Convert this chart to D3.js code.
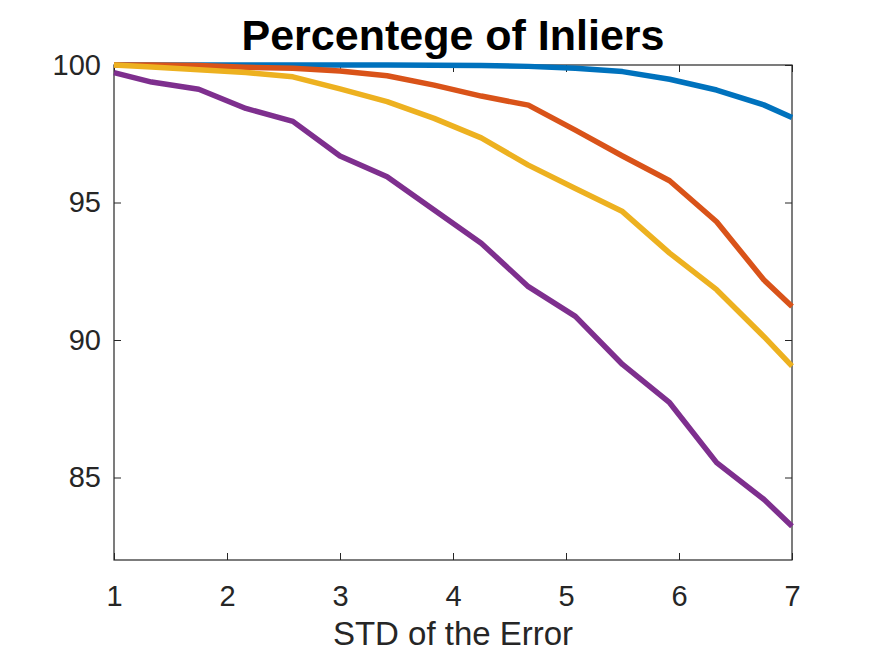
<!DOCTYPE html>
<html>
<head>
<meta charset="utf-8">
<script src="https://cdn.jsdelivr.net/npm/d3@7"></script>
<style>
    body { margin: 0; background: #fff; }
    svg { display: block; font-family: "Liberation Sans", Arial, sans-serif; }
</style>
</head>
<body>
<svg id="container" width="875" height="656"></svg>
<script>
// std of the error (x) and percentage of inliers per curve
const xValues = [1, 1.333, 1.75, 2.167, 2.583, 3, 3.417, 3.833, 4.25, 4.667, 5.083, 5.5, 5.917, 6.333, 6.75, 7];
const blueValues = [100, 100, 100, 100, 100, 100, 100, 99.99, 99.98, 99.95, 99.88, 99.76, 99.48, 99.09, 98.55, 98.09];
const redValues = [100, 100, 99.98, 99.92, 99.88, 99.78, 99.61, 99.27, 98.87, 98.54, 97.63, 96.69, 95.79, 94.30, 92.19, 91.22];
const yellowValues = [100, 99.93, 99.83, 99.73, 99.57, 99.13, 98.67, 98.06, 97.35, 96.36, 95.51, 94.67, 93.16, 91.83, 90.13, 89.05];
const purpleValues = [99.72, 99.38, 99.12, 98.42, 97.95, 96.69, 95.94, 94.73, 93.52, 91.94, 90.86, 89.11, 87.72, 85.54, 84.21, 83.23];

const xTicks = [1, 2, 3, 4, 5, 6, 7];
const yTicks = [85, 90, 95, 100];

const series = [
    { name: "blue", values: blueValues, color: "#0072BD" },
    { name: "red", values: redValues, color: "#D95319" },
    { name: "yellow", values: yellowValues, color: "#EDB120" },
    { name: "purple", values: purpleValues, color: "#7E2F8E" }
];

const svg = d3.select('#container');
const margin = { top: 65, right: 83, bottom: 96, left: 114 };
const width = 875 - margin.left - margin.right;
const height = 656 - margin.top - margin.bottom;
const axisColor = "#262626";

const xScale = d3.scaleLinear().domain([1, 7]).range([0, width]);
const yScale = d3.scaleLinear().domain([82, 100]).range([height, 0]);

const g = svg.append('g')
    .attr('transform', 'translate(' + margin.left + ',' + margin.top + ')');

function styleAxis(sel) {
    sel.select('.domain').remove();
    sel.selectAll('.tick line').attr('stroke', axisColor);
    sel.selectAll('.tick text')
        .attr('fill', axisColor)
        .style('font-size', '29px');
}

// bottom and left axes with inward ticks
g.append('g')
    .attr('transform', 'translate(0,' + height + ')')
    .call(d3.axisBottom(xScale).tickValues(xTicks).tickSize(-7).tickPadding(25).tickFormat(d3.format('d')))
    .call(styleAxis);

g.append('g')
    .call(d3.axisLeft(yScale).tickValues(yTicks).tickSize(-7).tickPadding(13).tickFormat(d3.format('d')))
    .call(styleAxis);

// top and right ticks (box on)
g.append('g')
    .call(d3.axisTop(xScale).tickValues(xTicks).tickSize(-7).tickFormat(''))
    .call(styleAxis);

g.append('g')
    .attr('transform', 'translate(' + width + ',0)')
    .call(d3.axisRight(yScale).tickValues(yTicks).tickSize(-7).tickFormat(''))
    .call(styleAxis);

g.append('rect')
    .attr('x', 0).attr('y', 0)
    .attr('width', width).attr('height', height)
    .attr('fill', 'none')
    .attr('stroke', axisColor)
    .attr('stroke-width', 1.2);

const line = d3.line()
    .x((d, i) => xScale(xValues[i]))
    .y(d => yScale(d));

for (let s of series) {
    g.append('path')
        .datum(s.values)
        .attr('d', line)
        .attr('fill', 'none')
        .attr('stroke', s.color)
        .attr('stroke-width', 5.5)
        .attr('stroke-linejoin', 'round');
}

svg.append('text')
    .attr('x', margin.left + width / 2)
    .attr('y', 50)
    .attr('text-anchor', 'middle')
    .style('font-size', '43px')
    .style('font-weight', 'bold')
    .attr('fill', '#000')
    .text('Percentege of Inliers');

svg.append('text')
    .attr('x', margin.left + width / 2)
    .attr('y', 645)
    .attr('text-anchor', 'middle')
    .style('font-size', '33px')
    .attr('fill', axisColor)
    .text('STD of the Error');
</script>
</body>
</html>
